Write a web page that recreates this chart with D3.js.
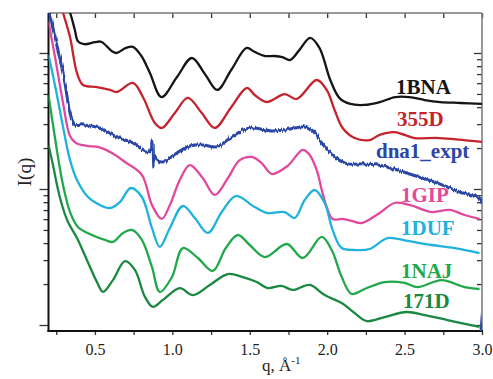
<!DOCTYPE html>
<html>
<head>
<meta charset="utf-8">
<script src="https://cdn.jsdelivr.net/npm/d3@7"></script>
<style>
  body { margin: 0; background: #fff; }
  svg text { font-family: "Liberation Serif", "Times New Roman", serif; }
</style>
</head>
<body>
<svg id="chart" width="493" height="379"></svg>
<script>
// ---- data (I in arbitrary units, log scale) ----
const seriesNames = ["1BNA", "355D", "dna1_expt", "1GIP", "1DUF", "1NAJ", "171D"];
const seriesColors = ["#151515", "#c4242c", "#2a46a6", "#e2489c", "#20b2dc", "#22a84c", "#1a8840"];

const q_1BNA = [0.32,0.34,0.37,0.39,0.43,0.50,0.54,0.61,0.64,0.70,0.745,0.80,0.855,0.93,1.03,1.126,1.21,1.29,1.38,1.48,1.53,1.60,1.66,1.71,1.76,1.82,1.89,1.95,2.02,2.08,2.15,2.24,2.34,2.44,2.53,2.63,2.73,2.86,3.00];
const I_1BNA = [225,197,148,122,116,120,121,103,100,109,111,95,71.4,47.4,66.6,91.9,70.1,53.5,75,109,102,95,95,93.4,88.8,105,129,109,63.3,46.6,42.2,41.5,43.6,47.4,47.4,45.1,43.6,42.9,42.2];

const q_355D = [0.274,0.294,0.339,0.384,0.423,0.513,0.597,0.642,0.745,0.81,0.887,0.932,1.016,1.10,1.19,1.274,1.377,1.481,1.532,1.61,1.726,1.803,1.932,1.997,2.048,2.10,2.177,2.274,2.339,2.435,2.50,2.565,2.726,3.0];
const I_355D = [233,197,131,71.3,58.2,56.2,53.5,51.7,60.2,47.5,30.6,28.1,36.2,46.7,36.2,28.1,39.4,55.3,49.1,43.6,49.9,45.9,63.3,53.5,38.1,28.1,23.7,22.9,25.0,26.2,25.0,23.7,23.7,22.2];

const q_expt = [0.2,0.261,0.306,0.339,0.371,0.423,0.532,0.642,0.745,0.835,0.861,0.868,0.874,0.881,0.90,0.939,1.029,1.113,1.197,1.287,1.39,1.5,1.642,1.726,1.855,1.90,1.965,2.048,2.132,2.242,2.358,2.513,2.726,2.855,2.99,2.995];
const I_expt = [207,105,60.2,36.2,29.6,29.6,28.1,24.1,21.8,18.7,19.4,22.5,14.5,17.5,16.3,15.8,18.4,20.7,21.1,20.4,24.5,28.1,26.7,27.2,28.6,27.2,21.8,17.2,15.3,15.3,14.8,13.1,10.9,9.5,8.3,0.776];

const q_1GIP = [0.2,0.248,0.294,0.339,0.377,0.455,0.519,0.61,0.694,0.803,0.868,0.932,0.984,1.048,1.113,1.197,1.274,1.358,1.435,1.513,1.577,1.642,1.745,1.842,1.887,1.932,1.965,1.997,2.035,2.10,2.158,2.223,2.339,2.435,2.532,2.674,2.79,2.887,2.984];
const I_1GIP = [169,85.9,42.9,24.5,21.8,20.7,20.4,18.4,15.8,12.7,7.63,6.02,7.63,11.65,15.0,12.0,9.04,12.0,16.3,17.2,15.5,12.9,14.8,19.4,17.8,13.8,9.83,7.37,6.02,6.02,5.82,5.62,6.66,7.89,7.63,6.77,7.01,6.44,6.02];

const q_1DUF = [0.2,0.248,0.294,0.339,0.384,0.455,0.532,0.597,0.661,0.732,0.803,0.868,0.919,0.984,1.068,1.145,1.229,1.319,1.41,1.532,1.616,1.726,1.79,1.855,1.919,1.984,2.035,2.094,2.177,2.274,2.39,2.519,2.674,2.823,2.984];
const I_1DUF = [96.7,53.5,28.6,16.3,11.65,8.73,7.63,7.25,8.02,10.17,8.73,5.17,3.75,5.17,7.50,6.12,4.75,6.77,8.88,7.37,6.66,6.77,6.12,8.30,9.83,7.89,5.00,3.68,3.56,3.62,4.36,4.15,3.875,3.68,3.38];

const q_1NAJ = [0.2,0.242,0.287,0.313,0.339,0.39,0.481,0.565,0.616,0.681,0.739,0.803,0.868,0.919,0.997,1.068,1.165,1.261,1.345,1.423,1.5,1.597,1.739,1.842,1.965,2.029,2.094,2.158,2.242,2.371,2.5,2.584,2.739,2.887,2.984];
const I_1NAJ = [49.1,23.7,11.65,8.59,6.77,5.26,4.59,4.22,4.08,4.75,5.0,4.22,2.67,1.75,2.25,3.68,3.11,2.50,3.68,4.59,3.875,3.16,3.94,3.11,4.44,3.56,2.25,1.69,1.84,2.07,2.04,1.90,2.14,1.90,1.84];

const q_171D = [0.2,0.229,0.255,0.287,0.326,0.384,0.448,0.513,0.552,0.616,0.694,0.758,0.823,0.874,0.939,1.048,1.132,1.242,1.358,1.455,1.545,1.616,1.706,1.777,1.887,1.984,2.094,2.177,2.255,2.371,2.513,2.629,2.777,2.984];
const I_171D = [21.1,15.0,10.7,7.63,5.72,4.36,3.01,2.07,1.75,2.14,2.95,2.54,1.61,1.36,1.53,1.87,1.66,1.97,2.37,2.25,2.07,1.87,1.94,1.81,1.97,1.66,1.45,1.225,1.07,1.145,1.246,1.184,1.088,0.967];

const seriesQ = [q_1BNA, q_355D, q_expt, q_1GIP, q_1DUF, q_1NAJ, q_171D];
const seriesI = [I_1BNA, I_355D, I_expt, I_1GIP, I_1DUF, I_1NAJ, I_171D];

const xTicks = [0.25,0.5,0.75,1.0,1.25,1.5,1.75,2.0,2.25,2.5,2.75,3.0];
const xTickLabels = ["0.5","1.0","1.5","2.0","2.5","3.0"];
const yMajor = [1, 10, 100];
const yMinor = [2,3,4,5,6,7,8,9,20,30,40,50,60,70,80,90];

// ---- layout ----
const W = 493, H = 379;
const margin = { top: 13, right: 11, bottom: 48, left: 48.5 };
const labelPos = [[396,94],[397,126],[376,158],[401,202],[401,235],[401,278],[403,308]];

let svg, g, x, y, width, height;

function initSvg() {
  svg = d3.select("#chart");
  width = W - margin.left - margin.right;
  height = H - margin.top - margin.bottom;
  g = svg.append("g").attr("transform", "translate(" + margin.left + "," + margin.top + ")");

  const defs = svg.append("defs");
  defs.append("clipPath").attr("id", "plotclip")
    .append("rect").attr("x", 0).attr("y", 0).attr("width", width).attr("height", height);
  // rough look for the measured curve: noise fast along x, slow along y
  const f = defs.append("filter").attr("id", "jitter")
    .attr("filterUnits", "userSpaceOnUse")
    .attr("x", -10).attr("y", -10).attr("width", width + 20).attr("height", height + 20);
  f.append("feTurbulence").attr("type", "fractalNoise")
    .attr("baseFrequency", "0.7 0.03").attr("numOctaves", 2).attr("seed", 4).attr("result", "n");
  f.append("feDisplacementMap").attr("in", "SourceGraphic").attr("in2", "n")
    .attr("scale", 4).attr("xChannelSelector", "B").attr("yChannelSelector", "G");
}

function initAxis() {
  x = d3.scaleLinear().domain([0.2, 3.0]).range([0, width]);
  y = d3.scaleLog().domain([0.9035, 196.8]).range([height, 0]);
}

function drawAxis() {
  const fmt = d => Math.abs(d * 2 - Math.round(d * 2)) < 1e-6 && xTickLabels.includes(d.toFixed(1)) ? d.toFixed(1) : "";

  const bottom = g.append("g")
    .attr("transform", "translate(0," + height + ")")
    .call(d3.axisBottom(x).tickValues(xTicks).tickSize(4).tickPadding(9).tickFormat(fmt));
  bottom.selectAll("text").attr("font-size", "16px").attr("fill", "#222")
    .style("font-family", "'Liberation Serif','Times New Roman',serif");

  g.append("g")
    .call(d3.axisTop(x).tickValues(xTicks).tickSize(-5).tickFormat(""));

  g.append("g").call(d3.axisLeft(y).tickValues(yMajor).tickSize(9).tickFormat(""));
  g.append("g").call(d3.axisLeft(y).tickValues(yMinor).tickSize(5).tickFormat(""));
  g.append("g").attr("transform", "translate(" + width + ",0)")
    .call(d3.axisRight(y).tickValues(yMajor).tickSize(-8).tickFormat(""));
  g.append("g").attr("transform", "translate(" + width + ",0)")
    .call(d3.axisRight(y).tickValues(yMinor).tickSize(-5).tickFormat(""));

  g.selectAll(".domain").remove();
  g.selectAll(".tick line").attr("stroke", "#333").attr("stroke-width", 1.3);

  // frame
  g.append("line").attr("x1", 0).attr("x2", width).attr("y1", 0).attr("y2", 0)
    .attr("stroke", "#777").attr("stroke-width", 1.5);
  g.append("line").attr("x1", width).attr("x2", width).attr("y1", 0).attr("y2", height)
    .attr("stroke", "#777").attr("stroke-width", 1.5);
  g.append("line").attr("x1", 0).attr("x2", 0).attr("y1", 0).attr("y2", height + 1)
    .attr("stroke", "#111").attr("stroke-width", 2);
  g.append("line").attr("x1", -1).attr("x2", width + 1).attr("y1", height).attr("y2", height)
    .attr("stroke", "#111").attr("stroke-width", 2);

  // axis titles
  svg.append("text")
    .attr("transform", "translate(31,172) rotate(-90)")
    .attr("text-anchor", "middle").attr("font-size", "19px").attr("fill", "#222")
    .text("I(q)");
  const xt = svg.append("text").attr("x", 262).attr("y", 371)
    .attr("font-size", "17px").attr("fill", "#222");
  xt.append("tspan").text("q, Å");
  xt.append("tspan").attr("dy", -7).attr("font-size", "11px").text("-1");
}

function drawLines() {
  const line = d3.line()
    .x(d => x(d[0]))
    .y(d => y(d[1]))
    .curve(d3.curveCatmullRom.alpha(0.5));

  const plot = g.append("g").attr("clip-path", "url(#plotclip)");
  seriesNames.forEach((name, i) => {
    const pts = seriesQ[i].map((q, k) => [q, seriesI[i][k]]);
    const p = plot.append("path")
      .datum(pts)
      .attr("fill", "none")
      .attr("stroke", seriesColors[i])
      .attr("stroke-width", 2.3)
      .attr("stroke-linejoin", "round")
      .attr("d", line);
    if (name === "dna1_expt") p.attr("filter", "url(#jitter)").attr("stroke-width", 3);
  });

  svg.selectAll(".series-label")
    .data(seriesNames)
    .enter().append("text")
    .attr("class", "series-label")
    .attr("x", (d, i) => labelPos[i][0])
    .attr("y", (d, i) => labelPos[i][1])
    .attr("font-size", "21px")
    .attr("font-weight", "bold")
    .attr("fill", (d, i) => seriesColors[i])
    .text(d => d);
}

initSvg();
initAxis();
drawAxis();
drawLines();
</script>
</body>
</html>
